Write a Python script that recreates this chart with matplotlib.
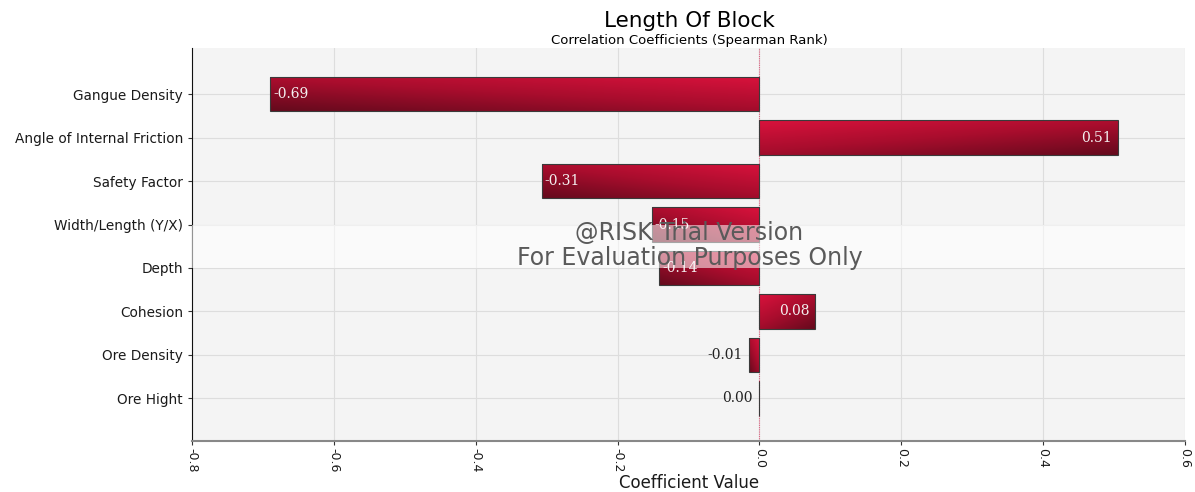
import numpy as np
import matplotlib.pyplot as plt
from matplotlib.colors import LinearSegmentedColormap

# data
labels = ["Gangue Density", "Angle of Internal Friction", "Safety Factor",
          "Width/Length (Y/X)", "Depth", "Cohesion", "Ore Density", "Ore Hight"]
values = [-0.69, 0.505, -0.307, -0.152, -0.141, 0.079, -0.015, -0.001]
shown = ["-0.69", "0.51", "-0.31", "-0.15", "-0.14", "0.08", "-0.01", "0.00"]
xticks = [-0.8, -0.6, -0.4, -0.2, 0.0, 0.2, 0.4, 0.6]

fig = plt.figure(figsize=(11.95, 4.92), dpi=100)
ax = fig.add_axes([0.1607, 0.1037, 0.8309, 0.7987])
ax.set_facecolor("#f4f4f4")

y = np.arange(len(labels))
bars = ax.barh(y, values, height=0.8, color="none", edgecolor="#3a3a3a",
               linewidth=0.8, zorder=3)

# gradient fill for each bar, clipped to the bar rectangle
cmap = LinearSegmentedColormap.from_list("crim", ["#d8123c", "#a80d2d", "#660a1d"])
gx, gy = np.meshgrid(np.linspace(0, 1, 60), np.linspace(0, 1, 20))
grad = 0.45 * gx + 0.55 * gy
for b in bars:
    x0, w = b.get_x(), b.get_width()
    y0, h = b.get_y(), b.get_height()
    im = ax.imshow(grad, cmap=cmap, aspect="auto", zorder=2,
                   extent=[x0, x0 + w, y0 + h, y0], interpolation="bicubic")
    im.set_clip_path(b)

# value labels
for yi, v, s in zip(y, values, shown):
    if abs(v) > 0.05:
        if v < 0:
            ax.text(v + 0.004, yi, s, ha="left", va="center", color="#f4f0f0",
                    fontsize=10, family="DejaVu Serif", zorder=4)
        else:
            ax.text(v - 0.008, yi, s, ha="right", va="center", color="#f4f0f0",
                    fontsize=10, family="DejaVu Serif", zorder=4)
    else:
        ax.text(min(v, 0) - 0.008, yi, s, ha="right", va="center", color="#222222",
                fontsize=10, family="DejaVu Serif", zorder=4)

ax.axvline(0, color="#e06080", linestyle=(0, (1, 1)), linewidth=0.8, zorder=1)

ax.set_xlim(-0.8, 0.6)
ax.set_ylim(len(labels) - 0.02, -1.06)
ax.set_yticks(y)
ax.set_yticklabels(labels, fontsize=9.8, color="#1a1a1a")
ax.set_xticks(xticks)
ax.set_xticklabels([f"{t:.1f}" for t in xticks], rotation=-90, fontsize=9,
                   color="#1a1a1a")
ax.grid(True, color="#dddddd", linewidth=0.8, zorder=0)
ax.set_axisbelow(True)
ax.tick_params(axis="both", length=3, color="#333333")
ax.tick_params(axis="x", pad=2)

for side in ["top", "right"]:
    ax.spines[side].set_visible(False)
ax.spines["left"].set_color("#111111")
ax.spines["bottom"].set_color("#888888")
ax.spines["bottom"].set_linewidth(1.5)

fig.text(0.5765, 1 - 483 / 492, "Coefficient Value", ha="center", va="center",
         fontsize=12, color="#1a1a1a")

fig.text(0.5765, 0.957, "Length Of Block", ha="center", va="center", fontsize=15.5)
fig.text(0.5765, 0.918, "Correlation Coefficients (Spearman Rank)", ha="center",
         va="center", fontsize=9.5)

# trial version watermark band
band = plt.Rectangle((0.1607, 1 - 268 / 492), 0.8309, 43 / 492, transform=fig.transFigure,
                     facecolor="white", alpha=0.55, edgecolor="none", zorder=5)
fig.patches.append(band)
fig.text(0.577, 1 - 233 / 492, "@RISK Trial Version", ha="center", va="center",
         fontsize=17, color="#5a5a5a", zorder=6)
fig.text(0.577, 1 - 258 / 492, "For Evaluation Purposes Only", ha="center", va="center",
         fontsize=17, color="#5a5a5a", zorder=6)

fig.savefig("out.png", dpi=100)
